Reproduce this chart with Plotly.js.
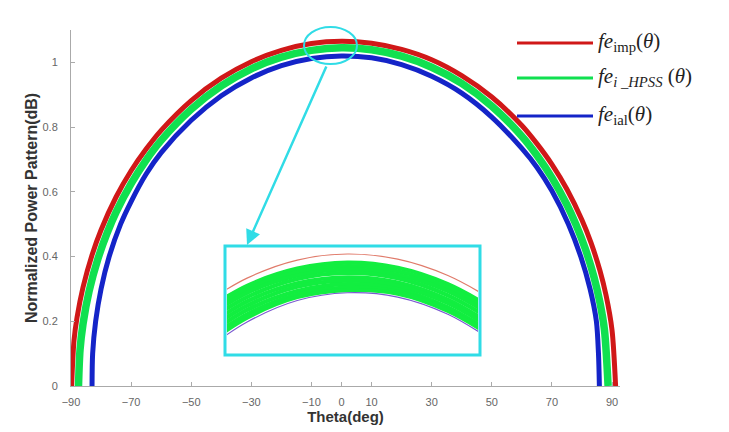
<!DOCTYPE html>
<html>
<head>
<meta charset="utf-8">
<script src="https://cdn.plot.ly/plotly-3.0.1.min.js"></script>
<style>html,body{margin:0;padding:0;background:#fff;}#chart{width:729px;height:432px;}</style>
</head>
<body>
<div id="chart"></div>
<script>
// ---- data ----
const thetaImp = [-89.8,-89,-88,-86,-83,-80,-75,-70,-65,-60,-50,-40,-30,-20,-10,0,10,20,30,40,50,60,65,70,75,80,83,86,88,90,91.2];
const feImp    = [0,0.141,0.211,0.305,0.405,0.482,0.584,0.665,0.732,0.790,0.882,0.951,1.002,1.037,1.058,1.065,1.059,1.040,1.008,0.959,0.893,0.805,0.749,0.685,0.608,0.513,0.443,0.356,0.281,0.173,0];

const thetaHpss = [-87.5,-87,-86,-84,-81,-78,-75,-70,-65,-60,-50,-40,-30,-20,-10,0,10,20,30,40,50,60,65,70,75,78,81,84,86,87.5,88.7];
const feHpss    = [0,0.111,0.192,0.292,0.394,0.472,0.537,0.625,0.698,0.759,0.855,0.927,0.980,1.016,1.037,1.045,1.039,1.019,0.985,0.935,0.865,0.772,0.713,0.644,0.560,0.499,0.427,0.337,0.257,0.172,0];

const thetaId = [-83,-82.8,-81.8,-80,-77.3,-73.5,-70,-65,-60,-50,-40,-30,-20,-10,0,10,20,30,40,50,60,65,70,75.5,79.6,82.7,84.8,85.5,85.8];
const feId    = [0,0.1,0.2,0.3,0.4,0.5,0.57,0.655,0.721,0.821,0.897,0.952,0.990,1.012,1.020,1.014,0.993,0.957,0.905,0.831,0.734,0.676,0.603,0.5,0.4,0.3,0.2,0.1,0];

// zoomed inset: samples near the peak
const thetaZoom = [-30,-20,-10,0,10,20,30];
const zoomImp = [1.002,1.037,1.058,1.065,1.059,1.040,1.008];
const zoomId  = [0.946,0.986,1.011,1.020,1.015,0.995,0.960];
const zoomHpss = [
  [0.993,1.028,1.048,1.055,1.049,1.030,0.998],
  [0.988,1.024,1.044,1.051,1.045,1.026,0.994],
  [0.984,1.020,1.040,1.047,1.041,1.022,0.989],
  [0.979,1.015,1.036,1.043,1.037,1.017,0.984],
  [0.973,1.010,1.031,1.038,1.032,1.012,0.978],
  [0.968,1.005,1.027,1.034,1.028,1.008,0.974],
  [0.962,1.000,1.022,1.030,1.024,1.003,0.969],
  [0.957,0.995,1.018,1.026,1.021,1.000,0.966],
  [0.952,0.991,1.015,1.023,1.019,0.999,0.965]
];

const xTicks = [-90,-70,-50,-30,-10,0,10,30,50,70,90];
const yTicks = [0,0.2,0.4,0.6,0.8,1];
const yTickText = ['0','0.2','0.4','0.6','0.8','1'];

const legendLabels = [
  '<i>fe</i><sub>imp</sub>(<i>θ</i>)',
  '<i>fe</i><sub><i>i _HPSS</i></sub> (<i>θ</i>)',
  '<i>fe</i><sub>ial</sub>(<i>θ</i>)'
];

// ---- styles ----
const RED = '#d01818', GREEN = '#10e050', BLUE = '#1424c8', CYAN = '#30dce6';

const traces = [
  {x: thetaImp, y: feImp, mode: 'lines', line: {color: RED, width: 5, shape: 'spline', smoothing: 0.8}, xaxis: 'x', yaxis: 'y', hoverinfo: 'skip'},
  {x: thetaHpss, y: feHpss, mode: 'lines', line: {color: GREEN, width: 7.5, shape: 'spline', smoothing: 0.8}, xaxis: 'x', yaxis: 'y', hoverinfo: 'skip'},
  {x: thetaId, y: feId, mode: 'lines', line: {color: BLUE, width: 5, shape: 'spline', smoothing: 0.8}, xaxis: 'x', yaxis: 'y', hoverinfo: 'skip'}
];
zoomHpss.forEach(s => traces.push({x: thetaZoom, y: s, mode: 'lines', line: {color: '#12ee40', width: 4.2, shape: 'spline'}, xaxis: 'x2', yaxis: 'y2', hoverinfo: 'skip'}));
traces.push({x: thetaZoom, y: zoomImp, mode: 'lines', line: {color: '#e07a6a', width: 1.2, shape: 'spline'}, xaxis: 'x2', yaxis: 'y2', hoverinfo: 'skip'});
traces.push({x: thetaZoom, y: zoomId, mode: 'lines', line: {color: '#7a5ad0', width: 1.2, shape: 'spline'}, xaxis: 'x2', yaxis: 'y2', hoverinfo: 'skip'});

// pixel -> paper helpers for the plot area (l=71, r=620, t=30, b=386)
const px = v => (v - 71) / 549;
const py = v => (386 - v) / 356;

const legendColors = [RED, GREEN, BLUE];
const legendY = [43, 78, 116];
const shapes = [
  {type: 'circle', xref: 'paper', yref: 'paper', x0: px(304), x1: px(357), y0: py(64), y1: py(27), line: {color: CYAN, width: 2}},
  {type: 'rect', xref: 'paper', yref: 'paper', x0: px(225), x1: px(480), y0: py(355), y1: py(246), line: {color: CYAN, width: 3}}
];
legendY.forEach((yy, i) => shapes.push({type: 'line', xref: 'paper', yref: 'paper', x0: px(517), x1: px(593), y0: py(yy), y1: py(yy), line: {color: legendColors[i], width: 3}}));

const annotations = [
  {xref: 'paper', yref: 'paper', x: px(247), y: py(245), ax: 80, ay: -180, text: '', showarrow: true, arrowhead: 2, arrowsize: 1.2, arrowwidth: 2.5, arrowcolor: CYAN}
];
legendLabels.forEach((t, i) => annotations.push({xref: 'paper', yref: 'paper', x: px(596), y: py(legendY[i] - 1), xanchor: 'left', yanchor: 'middle', text: t, showarrow: false, font: {family: 'Liberation Serif, Times New Roman, serif', size: 21, color: '#222'}}));

const layout = {
  width: 729, height: 432,
  margin: {l: 71, r: 109, t: 30, b: 46},
  paper_bgcolor: '#fff', plot_bgcolor: '#fff',
  showlegend: false,
  xaxis: {
    range: [-90, 92.66], tickvals: xTicks, ticks: 'inside', ticklen: 4, tickcolor: '#aaa',
    showline: true, linecolor: '#aaa', linewidth: 1, showgrid: false, zeroline: false,
    tickfont: {family: 'Liberation Sans, Arial, sans-serif', size: 11, color: '#666'},
    ticklabelstandoff: 6,
    title: {text: 'Theta(deg)', standoff: 4, font: {family: 'Liberation Sans, Arial, sans-serif', size: 15, color: '#333', weight: 'bold'}}
  },
  yaxis: {
    range: [0, 1.1], tickvals: yTicks, ticktext: yTickText, ticks: 'inside', ticklen: 4, tickcolor: '#aaa',
    showline: true, linecolor: '#aaa', linewidth: 1, showgrid: false, zeroline: false,
    tickfont: {family: 'Liberation Sans, Arial, sans-serif', size: 11, color: '#666'},
    ticklabelstandoff: 10,
    title: {text: 'Normalized Power Pattern(dB)', standoff: 0, font: {family: 'Liberation Sans, Arial, sans-serif', size: 16, color: '#333', weight: 'bold'}}
  },
  xaxis2: {domain: [px(227), px(478)], anchor: 'y2', range: [-24, 26], visible: false, fixedrange: true},
  yaxis2: {domain: [py(353), py(248)], anchor: 'x2', range: [0.95, 1.072], visible: false, fixedrange: true},
  shapes: shapes,
  annotations: annotations
};

Plotly.newPlot('chart', traces, layout, {displayModeBar: false, staticPlot: true});
</script>
</body>
</html>
